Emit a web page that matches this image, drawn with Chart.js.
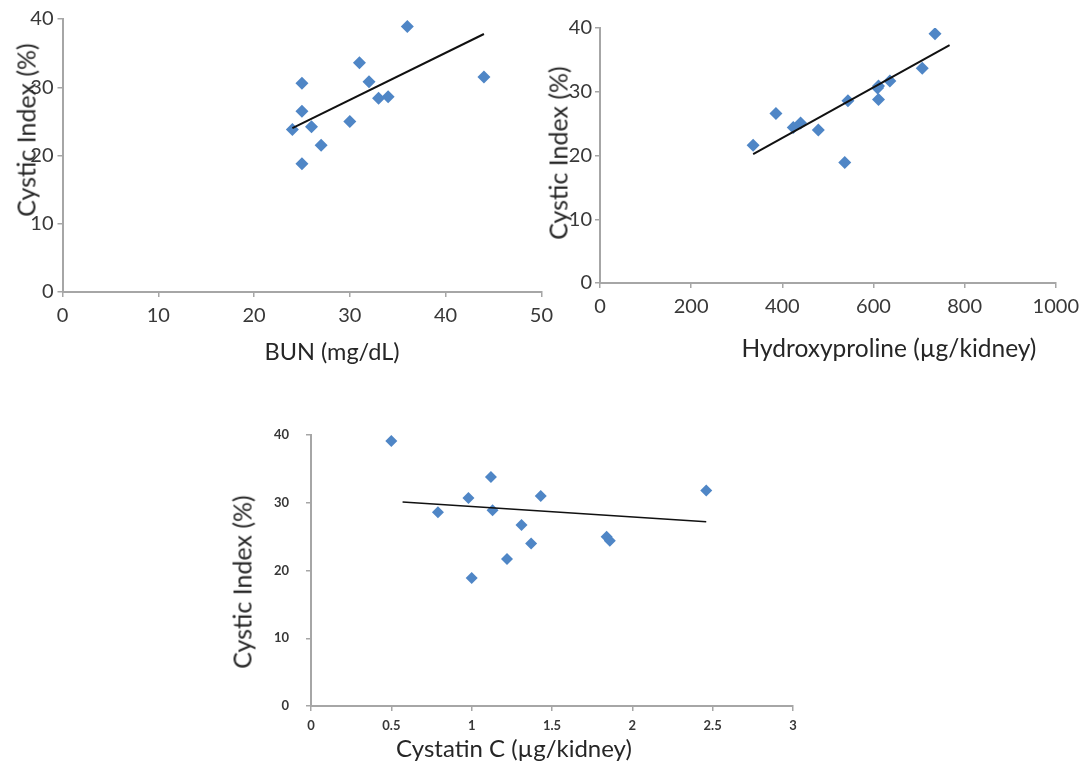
<!DOCTYPE html>
<html>
<head>
<meta charset="utf-8">
<script src="https://cdn.jsdelivr.net/npm/chart.js@4.4.1/dist/chart.umd.min.js"></script>
<style>
  html, body { margin: 0; padding: 0; background: #fff; }
  body { width: 1086px; height: 763px; position: relative; overflow: hidden;
         font-family: Lato, 'Open Sans', sans-serif; color: #262626; }
  canvas { position: absolute; }
  .ttl { position: absolute; white-space: nowrap; line-height: 1; transform: translate(-50%, -50%); }
  .ttl.rot { transform: translate(-50%, -50%) rotate(-90deg); }
</style>
</head>
<body>
<canvas id="c-bun" width="560" height="390" style="left:0;top:0"></canvas>
<canvas id="c-hyp" width="546" height="390" style="left:540px;top:0"></canvas>
<canvas id="c-cys" width="620" height="363" style="left:200px;top:400px"></canvas>

<div class="ttl rot" style="left:26px;top:130px;font-size:25px">Cystic Index (%)</div>
<div class="ttl" style="left:332px;top:352px;font-size:23.5px">BUN (mg/dL)</div>
<div class="ttl rot" style="left:558px;top:153px;font-size:25px">Cystic Index (%)</div>
<div class="ttl" style="left:889px;top:348px;font-size:24.5px">Hydroxyproline (µg/kidney)</div>
<div class="ttl rot" style="left:242px;top:582px;font-size:25px">Cystic Index (%)</div>
<div class="ttl" style="left:514px;top:748px;font-size:24px">Cystatin C (µg/kidney)</div>

<script>
// cystic index per animal (%), same animals in all three panels
const bunX = [24, 25, 25, 25, 26, 27, 30, 31, 32, 33, 34, 36, 44];
const bunY = [23.8, 30.6, 26.5, 18.8, 24.2, 21.5, 25.0, 33.6, 30.8, 28.4, 28.6, 38.9, 31.5];
const bunTrendX = [24, 44];
const bunTrendY = [24.0, 37.8];

const hypX = [336, 386, 424, 440, 479, 537, 544, 609, 611, 611, 636, 707, 735];
const hypY = [21.6, 26.6, 24.4, 25.1, 24.0, 18.9, 28.6, 30.6, 30.9, 28.8, 31.7, 33.7, 39.1];
const hypTrendX = [336, 767];
const hypTrendY = [20.2, 37.3];

const cysX = [0.50, 0.79, 0.98, 1.00, 1.12, 1.13, 1.22, 1.31, 1.37, 1.43, 1.84, 1.86, 2.46];
const cysY = [39.1, 28.6, 30.7, 18.9, 33.8, 28.9, 21.7, 26.7, 24.0, 31.0, 25.0, 24.4, 31.8];
const cysTrendX = [0.57, 2.46];
const cysTrendY = [30.1, 27.2];

const yTicks = ['0', '10', '20', '30', '40'];
const bunTicks = ['0', '10', '20', '30', '40', '50'];
const hypTicks = ['0', '200', '400', '600', '800', '1000'];
const cysTicks = ['0', '0.5', '1', '1.5', '2', '2.5', '3'];

const AXIS = '#a6a6a6';
const DOT  = '#4f86c6';

const pts = (xs, ys) => xs.map((x, i) => ({ x, y: ys[i] }));

function scatter(id, o) {
  const tickFont = { family: 'Lato', size: o.fontSize, weight: o.fontWeight || 'normal' };
  const grid = { drawOnChartArea: false, drawTicks: true, tickLength: 5, color: AXIS, lineWidth: 1.5 };
  return new Chart(document.getElementById(id), {
    type: 'scatter',
    data: {
      datasets: [
        { data: pts(o.trendX, o.trendY), showLine: true, pointRadius: 0,
          borderColor: '#111', borderWidth: o.lineWidth },
        { data: pts(o.xs, o.ys), pointStyle: 'rectRot', pointRadius: o.dot,
          backgroundColor: DOT, borderColor: DOT, borderWidth: 0 },
      ]
    },
    options: {
      responsive: false,
      animation: false,
      events: [],
      layout: { autoPadding: false, padding: { left: 0, top: o.top, right: o.right, bottom: 0 } },
      plugins: { legend: { display: false }, tooltip: { enabled: false } },
      scales: {
        x: {
          type: 'linear', min: 0, max: o.xMax,
          ticks: { stepSize: o.xStep, font: tickFont, color: '#383838', padding: o.xPad,
                   maxRotation: 0, callback: (v, i) => o.xTicks[i] },
          grid, border: { color: AXIS, width: 2 },
          afterFit: s => { s.height = o.xHeight; }
        },
        y: {
          min: 0, max: 40,
          ticks: { stepSize: 10, font: tickFont, color: '#383838', padding: o.yPad,
                   callback: (v, i) => yTicks[i] },
          grid, border: { color: AXIS, width: 2 },
          afterFit: s => { s.width = o.yWidth; }
        }
      }
    }
  });
}

scatter('c-bun', {
  xs: bunX, ys: bunY, trendX: bunTrendX, trendY: bunTrendY,
  xMax: 50, xStep: 10, xTicks: bunTicks,
  top: 19, right: 18, yWidth: 62.5, xHeight: 98,
  fontSize: 20, xPad: 7, yPad: 4, dot: 6.5, lineWidth: 2
});

scatter('c-hyp', {
  xs: hypX, ys: hypY, trendX: hypTrendX, trendY: hypTrendY,
  xMax: 1000, xStep: 200, xTicks: hypTicks,
  top: 28, right: 18, yWidth: 60, xHeight: 107,
  fontSize: 20, xPad: 7, yPad: 3, dot: 6.5, lineWidth: 2
});

scatter('c-cys', {
  xs: cysX, ys: cysY, trendX: cysTrendX, trendY: cysTrendY,
  xMax: 3, xStep: 0.5, xTicks: cysTicks,
  top: 35, right: 27, yWidth: 111, xHeight: 57,
  fontSize: 13, fontWeight: 'bold', xPad: 7, yPad: 17, dot: 6, lineWidth: 1.6
});
</script>
</body>
</html>
